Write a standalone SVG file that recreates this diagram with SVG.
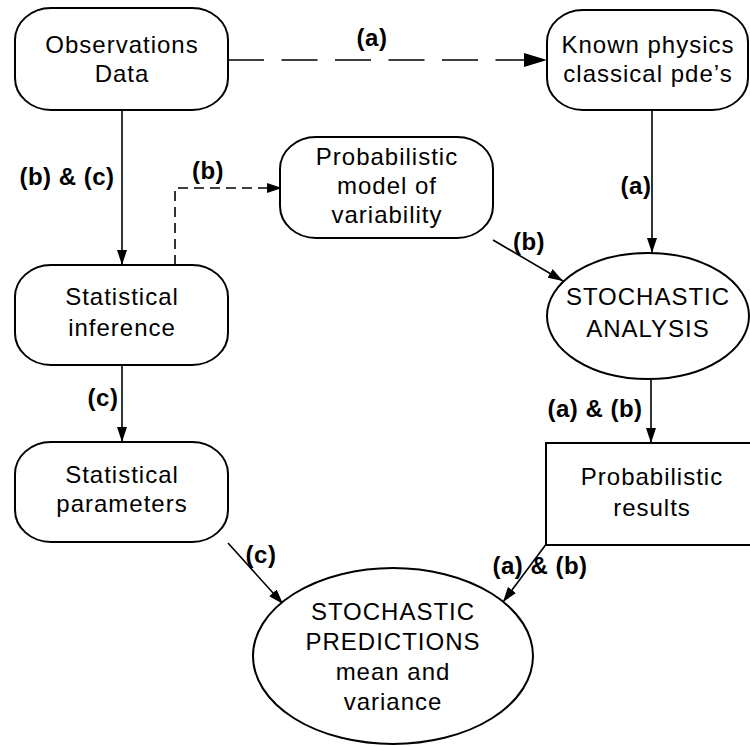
<svg xmlns="http://www.w3.org/2000/svg" width="750" height="746" viewBox="0 0 750 746">
<defs>
<style>
.box{fill:#fff;stroke:#000;stroke-width:2}
.t{font-family:"Liberation Sans",Arial,sans-serif;font-size:24px;text-anchor:middle;fill:#000;letter-spacing:1px}
.l{font-family:"Liberation Sans",Arial,sans-serif;font-size:24px;font-weight:bold;text-anchor:middle;fill:#000;letter-spacing:0.5px}
.c{fill:none;stroke:#000;stroke-width:1.6}
</style>
<marker id="ah" markerUnits="userSpaceOnUse" markerWidth="16" markerHeight="12" refX="15" refY="5" orient="auto" viewBox="0 0 16 10">
<path d="M0,0 L15,5 L0,10 Z" fill="#000"/>
</marker>
<marker id="ahb" markerUnits="userSpaceOnUse" markerWidth="24" markerHeight="16" refX="23" refY="7" orient="auto" viewBox="0 0 24 14">
<path d="M0,0 L23,7 L0,14 Z" fill="#000"/>
</marker>
</defs>
<rect width="750" height="746" fill="#fff"/>
<g id="connectors">
<line class="c" x1="228" y1="60" x2="547" y2="60" stroke-width="3.2" stroke-dasharray="36 17.5" marker-end="url(#ahb)"/>
<line class="c" x1="122" y1="110" x2="122" y2="265" marker-end="url(#ah)"/>
<path class="c" d="M175,265 V188 H282" stroke-width="2.2" stroke-dasharray="10 6" marker-end="url(#ah)"/>
<line class="c" x1="652" y1="110" x2="652" y2="253" marker-end="url(#ah)"/>
<line class="c" x1="493" y1="240" x2="563" y2="281" marker-end="url(#ah)"/>
<line class="c" x1="122" y1="365" x2="122" y2="442" marker-end="url(#ah)"/>
<line class="c" x1="651" y1="380" x2="651" y2="443" marker-end="url(#ah)"/>
<line class="c" x1="228" y1="543" x2="283" y2="604" marker-end="url(#ah)"/>
<line class="c" x1="547" y1="543" x2="503" y2="602" marker-end="url(#ah)"/>
<text class="l" x="372" y="46">(a)</text>
<text class="l" x="67" y="185">(b) &amp; (c)</text>
<text class="l" x="208" y="179">(b)</text>
<text class="l" x="636" y="194">(a)</text>
<text class="l" x="529" y="250">(b)</text>
<text class="l" x="103" y="406">(c)</text>
<text class="l" x="595" y="417">(a) &amp; (b)</text>
<text class="l" x="261" y="563">(c)</text>
<text class="l" x="540" y="574">(a) &amp; (b)</text>
</g>
<g id="observations">
<rect class="box" x="15" y="8" width="213" height="102" rx="36" ry="32"/>
<text class="t" x="122" y="53">Observations</text>
<text class="t" x="122" y="82">Data</text>
</g>
<g id="known-physics">
<rect class="box" x="547" y="10" width="201" height="100" rx="36" ry="32"/>
<text class="t" x="648" y="53">Known physics</text>
<text class="t" x="648" y="82">classical pde’s</text>
</g>
<g id="probabilistic-model">
<rect class="box" x="280" y="137" width="213" height="101" rx="36" ry="32"/>
<text class="t" x="387" y="165">Probabilistic</text>
<text class="t" x="387" y="194">model of</text>
<text class="t" x="387" y="223">variability</text>
</g>
<g id="statistical-inference">
<rect class="box" x="15" y="265" width="213" height="100" rx="36" ry="32"/>
<text class="t" x="122" y="305">Statistical</text>
<text class="t" x="122" y="336">inference</text>
</g>
<g id="stochastic-analysis">
<ellipse class="box" cx="648" cy="316" rx="101" ry="63"/>
<text class="t" x="648" y="305">STOCHASTIC</text>
<text class="t" x="648" y="337">ANALYSIS</text>
</g>
<g id="statistical-parameters">
<rect class="box" x="15" y="442" width="213" height="100" rx="36" ry="32"/>
<text class="t" x="122" y="483">Statistical</text>
<text class="t" x="122" y="512">parameters</text>
</g>
<g id="probabilistic-results">
<rect class="box" x="546" y="443" width="210" height="102"/>
<text class="t" x="652" y="485">Probabilistic</text>
<text class="t" x="652" y="516">results</text>
</g>
<g id="stochastic-predictions">
<ellipse class="box" cx="393" cy="656" rx="140" ry="88"/>
<text class="t" x="393" y="620">STOCHASTIC</text>
<text class="t" x="393" y="650">PREDICTIONS</text>
<text class="t" x="393" y="680">mean and</text>
<text class="t" x="393" y="710">variance</text>
</g>
</svg>
